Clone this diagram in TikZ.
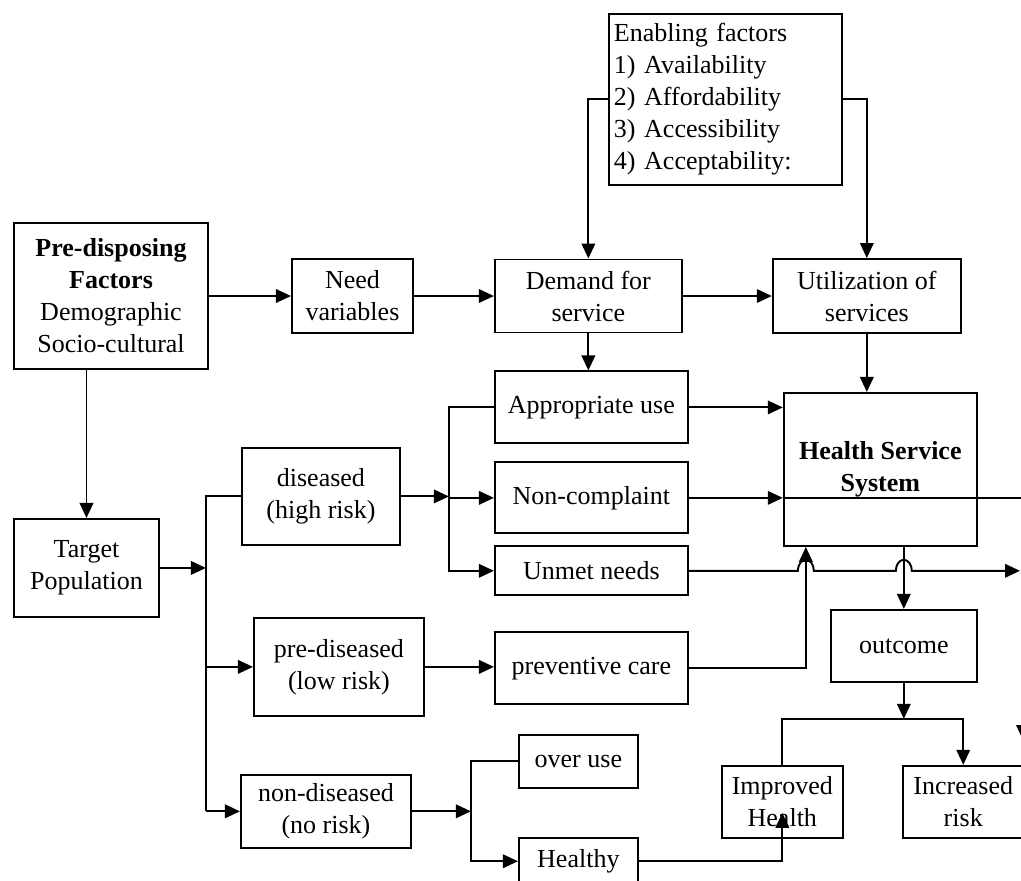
\documentclass[tikz,border=0pt]{standalone}
\usepackage{fontspec}
\setmainfont{Liberation Serif}
\usepackage{tikz}
\usetikzlibrary{arrows.meta}
\usetikzlibrary{calc}
\usetikzlibrary{positioning}

\begin{document}
\begin{tikzpicture}[box/.style={draw, line width=1.1pt, align=center, inner sep=2pt, font=\fontsize{14.8}{18.2}\selectfont},
        sz/.style 2 args={minimum width=#1, minimum height=#2},
        >={Triangle[length=0.3cm,width=0.27cm]}, line width=1.1pt]
        \useasboundingbox (0,0) rectangle (20.42,-17.6);
        \clip (0,0) rectangle (20.42,-17.6);
        \node[box, sz={3.88cm}{2.92cm}] (pre) at (2.22,-5.92) {\textbf{Pre-disposing}\\\textbf{Factors}\\Demographic\\Socio-cultural};
        \node[box, sz={2.42cm}{1.48cm}, right=1.64cm of pre] (need) {Need\\variables};
        \node[box, sz={3.74cm}{1.46cm}, right=1.60cm of need] (dem) {Demand for\\service};
        \node[box, sz={3.76cm}{1.48cm}, right=1.78cm of dem] (util) {Utilization of\\services};
        \node[box, sz={4.66cm}{3.42cm}, align=left, text width=4.46cm, inner sep=0.1cm, above=1.46cm of dem, xshift=2.74cm] (enab) {Enabling factors\\1) Availability\\2) Affordability\\3) Accessibility\\4) Acceptability:};
        
        \node[box, sz={3.86cm}{1.44cm}, below=0.74cm of dem.south west, anchor=north west] (appr) {Appropriate use};
        \node[box, sz={3.86cm}{1.42cm}, below=0.34cm of appr] (ncomp) {Non-complaint};
        \node[box, sz={3.86cm}{0.98cm}, below=0.22cm of ncomp] (unmet) {Unmet needs};
        \node[box, sz={3.86cm}{1.44cm}, below=0.70cm of unmet] (prev) {preventive care};
        
        \node[box, sz={3.86cm}{3.06cm}, below=1.16cm of util, xshift=0.27cm] (hss) {\textbf{Health Service}\\\textbf{System}};
        \node[box, sz={2.92cm}{1.44cm}, below=1.24cm of hss, xshift=0.47cm] (outc) {outcome};
        \node[box, sz={2.42cm}{1.44cm}, below=1.64cm of outc, xshift=-2.43cm] (impr) {Improved\\Health};
        \node[box, sz={2.40cm}{1.44cm}, right=1.17cm of impr] (incr) {Increased\\risk};
        
        \node[box, sz={2.90cm}{1.96cm}, below=2.96cm of pre.south west, anchor=north west] (tgt) {Target\\Population};
        \node[box, sz={3.16cm}{1.94cm}, right=1.62cm of tgt, yshift=1.43cm] (dis) {diseased\\(high risk)};
        \node[box, sz={3.40cm}{1.96cm}, below=1.42cm of dis, xshift=0.36cm] (pdis) {pre-diseased\\(low risk)};
        \node[box, sz={3.40cm}{1.46cm}, below=1.14cm of pdis, xshift=-0.26cm] (ndis) {non-diseased\\(no risk)};
        \node[box, sz={2.38cm}{1.06cm}, right=2.12cm of ndis, yshift=1.0cm] (over) {over use};
        \node[box, sz={2.38cm}{0.94cm}, below=0.96cm of over] (hlth) {Healthy};
        
        \coordinate[left=0.7cm of dis.west] (b1);
        \coordinate[right=0.96cm of dis.east] (b2);
        \coordinate[right=1.18cm of ndis.east] (b4);
        \coordinate (pv) at ($(hss.south west)+(0.46,0)$);
        \coordinate (itip) at ($(impr.center)+(0,-0.22)$);
        \coordinate (offr) at (20.46,-14.8);
        \coordinate (redge) at (20.40,0);
        
        \draw[->] (pre) -- (need);
        \draw[->] (need) -- (dem);
        \draw[->] (dem) -- (util);
        \draw[->] (enab.west) -| (dem.north);
        \draw[->] (enab.east) -| (util.north);
        \draw[->] (dem.south) -- (dem.south |- appr.north);
        \draw[->] (util.south) -- (util.south |- hss.north);
        
        \draw[->] (tgt.north |- pre.south) -- (tgt.north);
        \draw[->] (tgt) -- (tgt -| b1);
        \draw (dis.west) -- (b1) -- (b1 |- ndis);
        \draw[->] (b1 |- pdis) -- (pdis);
        \draw[->] (b1 |- ndis) -- (ndis);
        
        \draw[->] (dis) -- (b2);
        \draw[->] (appr.west) -| (b2) |- (unmet.west);
        \draw[->] (b2 |- ncomp) -- (ncomp);
        \draw[->] (pdis) -- (pdis -| prev.west);
        \draw[->] (appr.east) -- (appr.east -| hss.west);
        \draw[->] (ncomp.east) -- (ncomp.east -| hss.west);
        \draw[->] (ncomp.east -| hss.west) -- (ncomp.east -| offr) -- (offr);
        \draw[->] (prev.east) -| (pv);
        % hops over the two risers
        \draw[->] (unmet.east) -- ($(unmet.east -| pv)+(-0.16,0)$) arc[start angle=180, end angle=0, x radius=0.16, y radius=0.22]
            -- ($(unmet.east -| outc.north)+(-0.16,0)$) arc[start angle=180, end angle=0, x radius=0.16, y radius=0.22] -- (unmet.east -| redge);
        
        \draw[->] (outc.north |- hss.south) -- (outc.north);
        \draw[->] (outc.south) -- ++(0,-0.72) coordinate (b3);
        \draw[->] (impr.north) |- (b3) -| (incr.north);
        
        \draw[->] (ndis) -- (b4);
        \draw[->] (over.west) -| (b4) |- (hlth.west);
        \draw[->] (hlth.east) -| (itip);
    \end{tikzpicture}
\end{document}
